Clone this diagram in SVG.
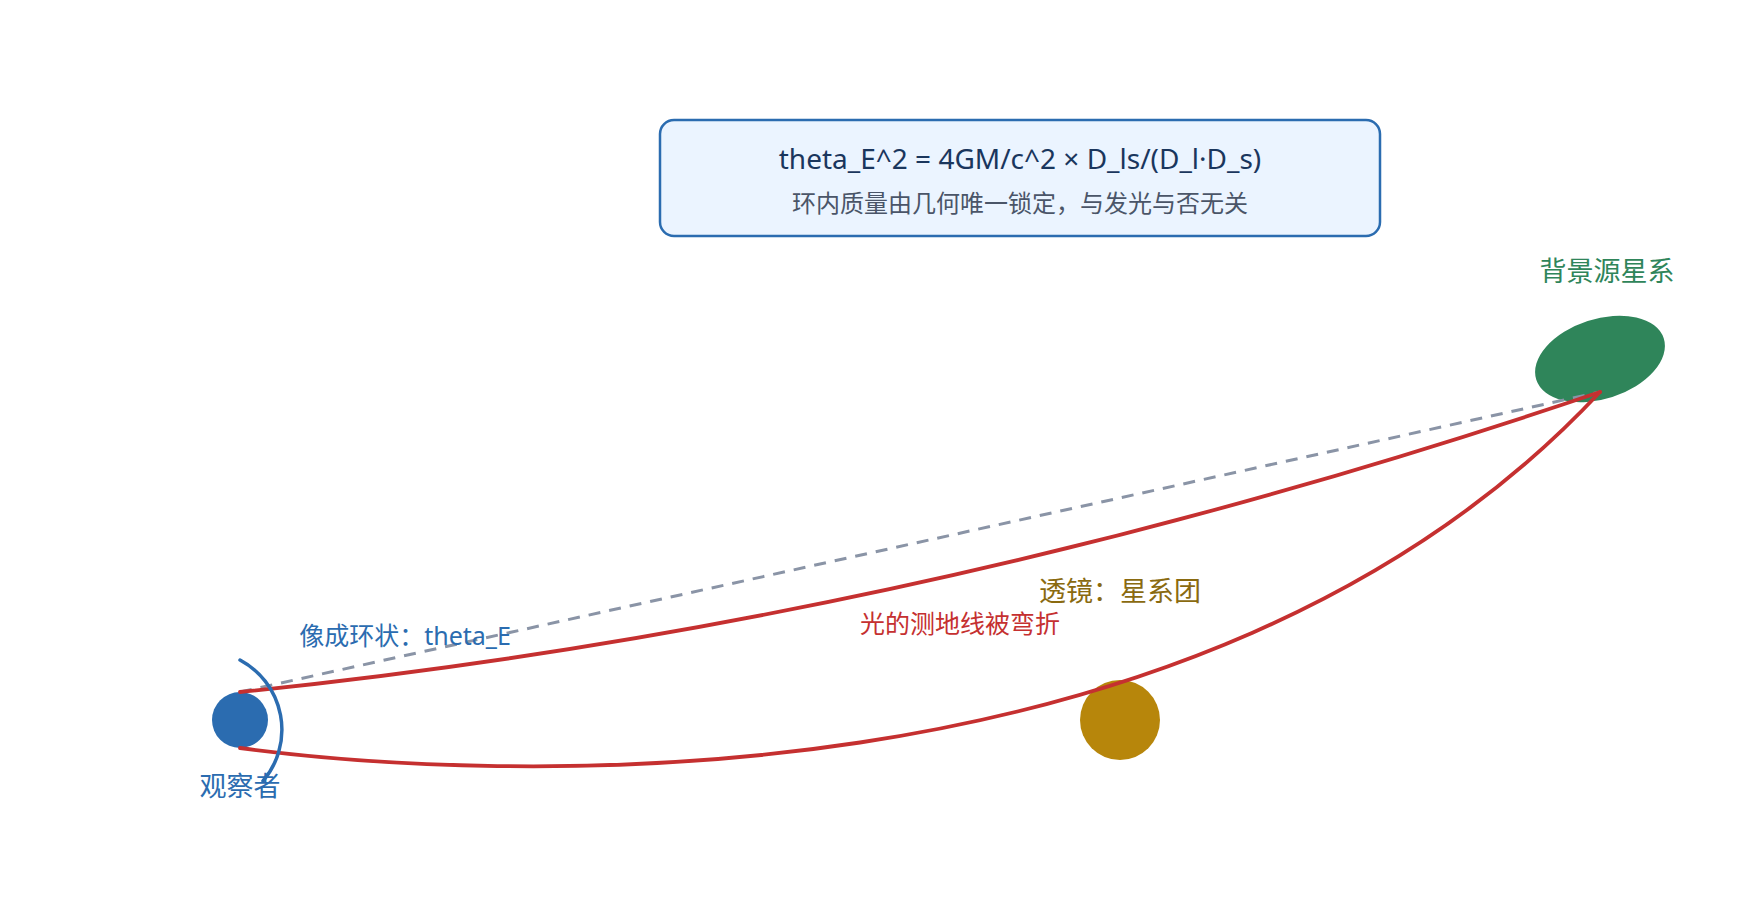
<svg xmlns="http://www.w3.org/2000/svg" width="1760" height="920" viewBox="0 0 1760 920">
  <style>
    text { font-family: "Noto Sans", "Noto Sans CJK SC", sans-serif; }
    .title { font-size: 28px; fill: #1a365d; text-anchor: middle; }
    .sub { font-size: 24px; fill: #4a5568; text-anchor: middle; }
    .nlabel { font-size: 27px; text-anchor: middle; }
    .elabel { font-size: 25px; text-anchor: middle; }
    .ray { fill: none; stroke: #c53030; stroke-width: 3.8; stroke-linecap: round; }
    .direct { fill: none; stroke: #8a94a6; stroke-width: 3; stroke-dasharray: 12 9; }
  </style>
  <rect width="1760" height="920" fill="#ffffff"/>

  <g id="formula">
    <rect x="660" y="120" width="720" height="116" rx="14" fill="#ebf4ff" stroke="#2b6cb0" stroke-width="2.5"/>
    <text class="title" x="1020" y="169">theta_E^2 = 4GM/c^2 × D_ls/(D_l·D_s)</text>
    <text class="sub" x="1020" y="212">环内质量由几何唯一锁定，与发光与否无关</text>
  </g>

  <g id="node-source">
    <ellipse cx="1600" cy="359" rx="67" ry="40" transform="rotate(-18 1600 359)" fill="#2f855a"/>
  </g>

  <g id="node-lens">
    <circle cx="1120" cy="720" r="40" fill="#b7860b"/>
  </g>

  <g id="node-observer">
    <circle cx="240" cy="720" r="28" fill="#2b6cb0"/>
  </g>

  <g id="connectors">
    <path class="direct" d="M 240 692 L 1600 392"/>
    <path class="ray" d="M 240 692 Q 920 623 1600 392"/>
    <path class="ray" d="M 240 748 C 480 780 1200 820 1600 392"/>
  </g>

  <g id="einstein-ring">
    <path d="M 240 660 A 79 79 0 0 1 263 781" fill="none" stroke="#2b6cb0" stroke-width="3.5" stroke-linecap="round"/>
  </g>

  <g id="labels">
    <text class="nlabel" x="1607" y="281" fill="#2f855a">背景源星系</text>
    <text class="nlabel" x="1120" y="601" fill="#8a6a10">透镜：星系团</text>
    <text class="nlabel" x="240" y="796" fill="#2b6cb0">观察者</text>
    <text class="elabel" x="960" y="633" fill="#c53030">光的测地线被弯折</text>
    <text class="elabel" x="405" y="645" fill="#2b6cb0">像成环状：theta_E</text>
  </g>
</svg>
